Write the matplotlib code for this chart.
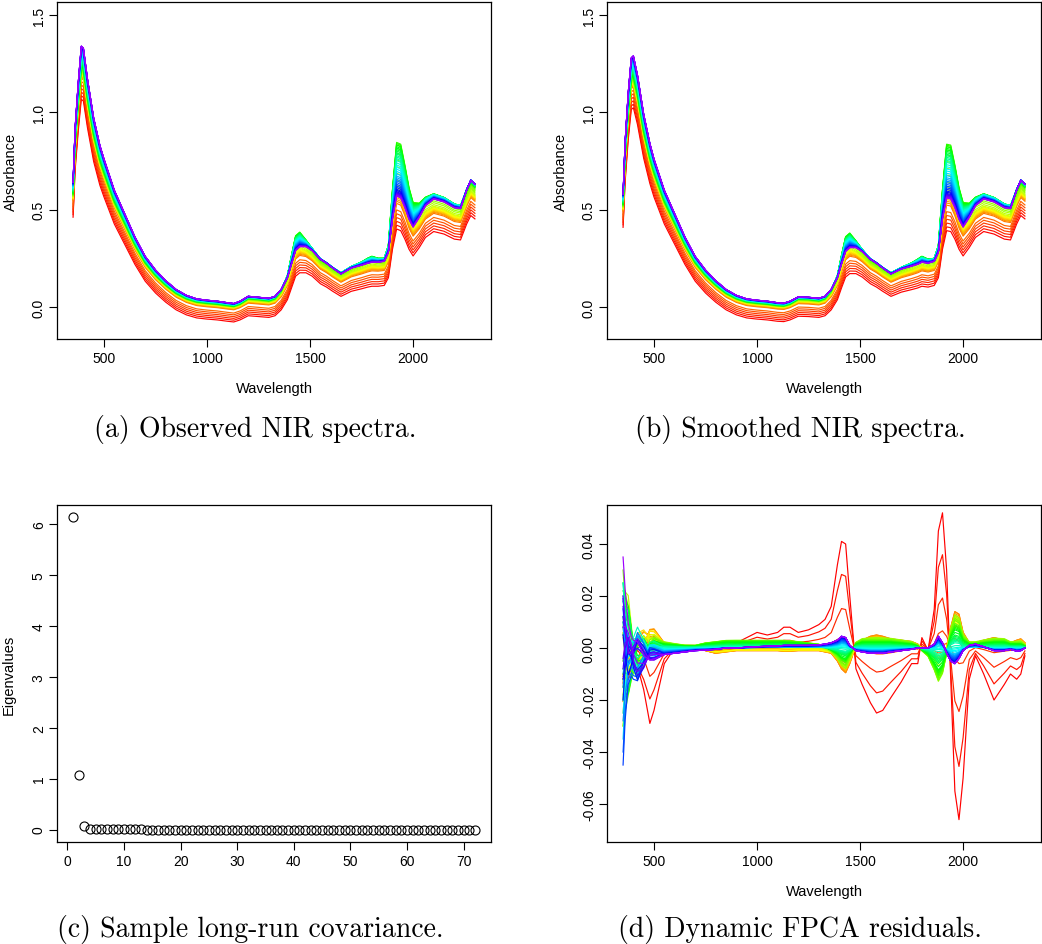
import matplotlib
matplotlib.use("Agg")
import matplotlib.pyplot as plt
import numpy as np
from matplotlib.colors import hsv_to_rgb

plt.rcParams["font.family"] = ["Liberation Sans", "DejaVu Sans"]
plt.rcParams["axes.unicode_minus"] = False

wave = [350, 360, 375, 390, 400, 420, 450, 480, 500, 550,
        600, 650, 700, 750, 800, 850, 900, 950, 1000, 1050,
        1100, 1130, 1160, 1200, 1250, 1300, 1330, 1360, 1390, 1410,
        1430, 1450, 1480, 1510, 1550, 1580, 1610, 1650, 1700, 1750,
        1780, 1800, 1830, 1860, 1880, 1900, 1920, 1940, 1960, 1980,
        2000, 2030, 2060, 2100, 2150, 2200, 2230, 2260, 2280, 2300]

# top (violet) observed spectrum
base_observed = [0.64, 0.92, 1.15, 1.34, 1.33, 1.17, 0.97, 0.83, 0.76, 0.60,
                 0.48, 0.36, 0.26, 0.19, 0.135, 0.09, 0.06, 0.042, 0.035, 0.03,
                 0.022, 0.018, 0.03, 0.055, 0.05, 0.045, 0.055, 0.09, 0.15, 0.22,
                 0.29, 0.31, 0.31, 0.29, 0.245, 0.225, 0.20, 0.17, 0.20, 0.215,
                 0.225, 0.23, 0.23, 0.235, 0.28, 0.45, 0.57, 0.56, 0.51, 0.45,
                 0.41, 0.46, 0.52, 0.555, 0.54, 0.51, 0.505, 0.60, 0.65, 0.63]

# top (violet) smoothed spectrum
base_smoothed = [0.58, 0.85, 1.10, 1.28, 1.29, 1.19, 0.99, 0.84, 0.76, 0.60,
                 0.48, 0.36, 0.26, 0.19, 0.135, 0.09, 0.06, 0.042, 0.035, 0.03,
                 0.022, 0.02, 0.03, 0.052, 0.05, 0.045, 0.055, 0.09, 0.15, 0.22,
                 0.285, 0.305, 0.305, 0.285, 0.245, 0.225, 0.20, 0.17, 0.195, 0.21,
                 0.22, 0.23, 0.225, 0.235, 0.28, 0.45, 0.56, 0.555, 0.51, 0.45,
                 0.41, 0.46, 0.52, 0.555, 0.54, 0.51, 0.505, 0.60, 0.65, 0.63]

# extra absorbance of the water bands (greenest spectra)
water_band = [0.0, 0.0, 0.0, 0.0, 0.0, 0.0, 0.0, 0.0, 0.0, 0.0,
              0.0, 0.0, 0.0, 0.0, 0.0, 0.0, 0.0, 0.0, 0.0, 0.0,
              0.0, 0.0, 0.0, 0.005, 0.005, 0.003, 0.005, 0.012, 0.035, 0.075,
              0.11, 0.11, 0.07, 0.045, 0.03, 0.028, 0.028, 0.03, 0.035, 0.045,
              0.055, 0.06, 0.05, 0.045, 0.07, 0.20, 0.33, 0.33, 0.27, 0.21,
              0.17, 0.12, 0.095, 0.08, 0.075, 0.07, 0.065, 0.055, 0.05, 0.045]

# per-spectrum scale, shift and water content (red ... violet)
spec_scale = [0.865, 0.872, 0.879, 0.886, 0.893, 0.900, 0.900, 0.902, 0.903, 0.904,
              0.905, 0.906, 0.907, 0.908, 0.909, 0.910, 0.912, 0.914, 0.916, 0.918,
              0.920, 0.922, 0.924, 0.926, 0.928, 0.930, 0.933, 0.936, 0.939, 0.942,
              0.945, 0.948, 0.951, 0.954, 0.957, 0.960, 0.963, 0.966, 0.969, 0.972,
              0.975, 0.977, 0.979, 0.981, 0.983, 0.985, 0.987, 0.989, 0.991, 0.993,
              0.995, 0.996, 0.997, 0.998, 0.999, 1.0, 1.0, 1.0, 1.0, 1.0]
spec_shift = [-0.092, -0.083, -0.074, -0.065, -0.056, -0.047, -0.030, -0.027, -0.025, -0.023,
              -0.022, -0.021, -0.020, -0.019, -0.018, -0.017, -0.016, -0.015, -0.015, -0.014,
              -0.014, -0.013, -0.013, -0.012, -0.012, -0.011, -0.011, -0.010, -0.010, -0.009,
              -0.009, -0.008, -0.008, -0.007, -0.007, -0.006, -0.006, -0.005, -0.005, -0.004,
              -0.004, -0.004, -0.003, -0.003, -0.003, -0.002, -0.002, -0.002, -0.002, -0.001,
              -0.001, -0.001, -0.001, 0.0, 0.0, 0.0, 0.0, 0.0, 0.0, 0.0]
spec_water = [0.0, 0.02, 0.04, 0.06, 0.08, 0.10, 0.15, 0.17, 0.19, 0.21,
              0.23, 0.25, 0.28, 0.31, 0.34, 0.38, 0.45, 0.55, 0.65, 0.75,
              0.85, 0.92, 0.97, 1.0, 0.98, 0.95, 0.92, 0.89, 0.86, 0.83,
              0.80, 0.77, 0.74, 0.71, 0.68, 0.64, 0.60, 0.56, 0.52, 0.48,
              0.44, 0.40, 0.36, 0.33, 0.30, 0.27, 0.24, 0.21, 0.18, 0.15,
              0.12, 0.10, 0.08, 0.06, 0.05, 0.04, 0.03, 0.02, 0.01, 0.0]

# eigenvalues of the sample long-run covariance
eigenvalues = [6.13, 1.08, 0.065, 0.012, 0.006, 0.004, 0.003, 0.002, 0.002, 0.001,
               0.001, 0.001, 0.001, 0.0, 0.0, 0.0, 0.0, 0.0, 0.0, 0.0,
               0.0, 0.0, 0.0, 0.0, 0.0, 0.0, 0.0, 0.0, 0.0, 0.0,
               0.0, 0.0, 0.0, 0.0, 0.0, 0.0, 0.0, 0.0, 0.0, 0.0,
               0.0, 0.0, 0.0, 0.0, 0.0, 0.0, 0.0, 0.0, 0.0, 0.0,
               0.0, 0.0, 0.0, 0.0, 0.0, 0.0, 0.0, 0.0, 0.0, 0.0,
               0.0, 0.0, 0.0, 0.0, 0.0, 0.0, 0.0, 0.0, 0.0, 0.0,
               0.0, 0.0]

# residual patterns (dynamic FPCA)
resid_red = [-0.010, -0.012, -0.010, -0.008, -0.007, -0.007, -0.016, -0.029, -0.024, -0.006,
             0.0, 0.001, 0.001, -0.001, -0.002, 0.0, 0.002, 0.004, 0.006, 0.005,
             0.006, 0.008, 0.008, 0.006, 0.007, 0.009, 0.011, 0.016, 0.032, 0.041,
             0.040, 0.020, -0.008, -0.014, -0.021, -0.025, -0.024, -0.019, -0.013, -0.006,
             -0.006, 0.004, -0.001, 0.015, 0.045, 0.052, 0.030, -0.012, -0.055, -0.066,
             -0.050, -0.012, -0.003, -0.010, -0.020, -0.014, -0.010, -0.012, -0.010, -0.003]
resid_warm = [0.0, 0.0, -0.002, -0.004, -0.004, -0.001, 0.004, 0.006, 0.006, 0.002,
              0.001, 0.0005, 0.0, -0.001, -0.002, -0.0015, -0.001, -0.001, -0.001, -0.001,
              -0.001, -0.0012, -0.0012, -0.001, -0.001, -0.001, -0.0015, -0.002, -0.005, -0.008,
              -0.0095, -0.006, 0.001, 0.003, 0.0045, 0.005, 0.0045, 0.0035, 0.003, 0.0025,
              0.0015, 0.0, -0.001, -0.002, -0.004, -0.004, 0.0, 0.008, 0.014, 0.013,
              0.006, 0.002, 0.002, 0.003, 0.004, 0.003, 0.002, 0.003, 0.0035, 0.002]
resid_green = [0.0, 0.0, 0.0, -0.002, -0.004, -0.005, -0.002, 0.001, 0.002, 0.002,
               0.0015, 0.001, 0.001, 0.002, 0.0025, 0.003, 0.003, 0.003, 0.003, 0.003,
               0.003, 0.003, 0.0028, 0.0025, 0.002, 0.0015, 0.0005, -0.001, -0.003, -0.005,
               -0.006, -0.003, 0.002, 0.003, 0.003, 0.003, 0.003, 0.003, 0.0025, 0.002,
               0.001, -0.001, -0.003, -0.008, -0.012, -0.009, -0.002, 0.006, 0.010, 0.009,
               0.004, 0.002, 0.002, 0.0025, 0.003, 0.003, 0.002, 0.002, 0.002, 0.001]
resid_cool = [0.0, 0.0, -0.002, -0.003, -0.004, -0.004, -0.004, -0.003, -0.003, -0.0025,
              -0.002, -0.0015, -0.001, -0.0008, -0.0005, 0.0, 0.0, 0.0003, 0.0005, 0.0007,
              0.0008, 0.001, 0.001, 0.001, 0.001, 0.0012, 0.0015, 0.002, 0.003, 0.0045,
              0.004, 0.001, -0.001, -0.0015, -0.002, -0.002, -0.002, -0.0015, -0.001, -0.0005,
              0.0, 0.0, 0.0, 0.0015, 0.0045, 0.002, -0.002, -0.005, -0.006, -0.004,
              -0.001, 0.001, 0.0015, 0.0005, -0.001, -0.001, -0.0005, -0.0012, -0.001, 0.0]
resid_edge = [1.0, 0.75, 0.5, 0.3, 0.2, 0.08, -0.04, -0.03, -0.01, 0.0,
              0.0, 0.0, 0.0, 0.0, 0.0, 0.0, 0.0, 0.0, 0.0, 0.0,
              0.0, 0.0, 0.0, 0.0, 0.0, 0.0, 0.0, 0.0, 0.0, 0.0,
              0.0, 0.0, 0.0, 0.0, 0.0, 0.0, 0.0, 0.0, 0.0, 0.0,
              0.0, 0.0, 0.0, 0.0, 0.0, 0.0, 0.0, 0.0, 0.0, 0.0,
              0.0, 0.0, 0.0, 0.0, 0.0, 0.0, 0.0, 0.0, 0.0, 0.0]
resid_wiggle = [0.0, 0.6, 1.0, 0.5, 0.0, -0.6, -0.4, 0.1, 0.15, 0.0,
                0.0, 0.0, 0.0, 0.0, 0.0, 0.0, 0.0, 0.0, 0.0, 0.0,
                0.0, 0.0, 0.0, 0.0, 0.0, 0.0, 0.0, 0.0, 0.0, 0.0,
                0.0, 0.0, 0.0, 0.0, 0.0, 0.0, 0.0, 0.0, 0.0, 0.0,
                0.0, 0.0, 0.0, 0.0, 0.0, 0.0, 0.0, 0.0, 0.0, 0.0,
                0.0, 0.0, 0.0, 0.0, 0.0, 0.0, 0.0, 0.0, 0.0, 0.0]

# per-spectrum weights of each residual pattern
gain_red = [1.0, 0.69, 0.37, 0.15, 0.06, 0.02, 0.0, 0.0, 0.0, 0.0,
            0.0, 0.0, 0.0, 0.0, 0.0, 0.0, 0.0, 0.0, 0.0, 0.0,
            0.0, 0.0, 0.0, 0.0, 0.0, 0.0, 0.0, 0.0, 0.0, 0.0,
            0.0, 0.0, 0.0, 0.0, 0.0, 0.0, 0.0, 0.0, 0.0, 0.0,
            0.0, 0.0, 0.0, 0.0, 0.0, 0.0, 0.0, 0.0, 0.0, 0.0,
            0.0, 0.0, 0.0, 0.0, 0.0, 0.0, 0.0, 0.0, 0.0, 0.0]
gain_warm = [0.0, 0.0, 0.0, 0.3, 0.5, 0.7, 1.0, 1.0, 0.95, 0.9,
             0.85, 0.8, 0.75, 0.7, 0.6, 0.5, 0.4, 0.3, 0.2, 0.1,
             0.05, 0.0, 0.0, 0.0, 0.0, 0.0, 0.0, 0.0, 0.0, 0.0,
             0.0, 0.0, 0.0, 0.0, 0.0, 0.0, 0.0, 0.0, 0.0, 0.0,
             0.0, 0.0, 0.0, 0.0, 0.0, 0.0, 0.0, 0.0, 0.0, 0.0,
             0.0, 0.0, 0.0, 0.0, 0.0, 0.0, 0.0, 0.0, 0.0, 0.0]
gain_green = [0.0, 0.0, 0.0, 0.0, 0.0, 0.0, 0.0, 0.0, 0.0, 0.0,
              0.0, 0.0, 0.0, 0.0, 0.2, 0.4, 0.6, 0.8, 1.0, 1.0,
              1.0, 0.95, 0.9, 0.85, 0.8, 0.75, 0.7, 0.6, 0.5, 0.45,
              0.4, 0.35, 0.3, 0.25, 0.2, 0.15, 0.1, 0.08, 0.05, 0.03,
              0.0, 0.0, 0.0, 0.0, 0.0, 0.0, 0.0, 0.0, 0.0, 0.0,
              0.0, 0.0, 0.0, 0.0, 0.0, 0.0, 0.0, 0.0, 0.0, 0.0]
gain_cool = [0.0, 0.0, 0.0, 0.0, 0.0, 0.0, 0.0, 0.0, 0.0, 0.0,
             0.0, 0.0, 0.0, 0.0, 0.0, 0.0, 0.0, 0.0, 0.0, 0.0,
             0.0, 0.0, 0.0, 0.0, 0.0, 0.0, 0.0, 0.0, 0.0, 0.0,
             0.0, 0.0, 0.0, 0.0, 0.0, 0.1, 0.15, 0.2, 0.25, 0.3,
             0.35, 0.4, 0.45, 0.5, 0.55, 0.6, 0.65, 0.7, 0.75, 0.8,
             0.85, 0.9, 0.95, 1.0, 1.0, 1.0, 1.0, 1.0, 1.0, 1.0]
gain_edge = [0.0, -0.004, -0.008, -0.012, -0.02, -0.01, -0.005, 0.008, -0.015, 0.012,
             -0.025, 0.006, -0.03, 0.01, -0.018, 0.004, 0.02, -0.01, 0.025, -0.02,
             0.03, 0.008, -0.03, 0.015, -0.012, 0.022, 0.005, -0.008, 0.018, -0.015,
             0.012, 0.025, -0.02, 0.01, -0.005, 0.025, -0.01, 0.018, -0.025, 0.012,
             -0.035, 0.02, -0.015, 0.008, -0.028, 0.015, -0.04, 0.01, -0.045, 0.019,
             -0.02, 0.005, -0.012, 0.016, -0.008, 0.012, -0.004, 0.02, 0.008, 0.035]
gain_wiggle = [0.0, 0.003, -0.004, 0.006, -0.005, 0.004, 0.008, -0.006, 0.01, -0.008,
               0.006, -0.01, 0.012, -0.004, 0.007, -0.009, 0.011, -0.012, 0.004, 0.009,
               -0.007, 0.012, -0.003, 0.008, -0.011, 0.005, 0.01, -0.006, 0.003, -0.01,
               0.009, -0.005, 0.012, -0.008, 0.004, -0.012, 0.01, -0.004, 0.007, -0.009,
               0.012, -0.006, 0.011, -0.01, 0.005, -0.012, 0.009, -0.003, 0.01, -0.007,
               0.012, -0.011, 0.006, -0.008, 0.01, -0.005, 0.008, -0.01, 0.004, -0.006]

captions = ["(a) Observed NIR spectra.", "(b) Smoothed NIR spectra.",
            "(c) Sample long-run covariance.", "(d) Dynamic FPCA residuals."]

FIG_W, FIG_H = 1042, 945


def rainbow(n, end=0.77):
    return [hsv_to_rgb((end * k / (n - 1), 1.0, 1.0)) for k in range(n)]


def px_axes(fig, left, top, right, bottom):
    return fig.add_axes([left / FIG_W, 1 - bottom / FIG_H,
                         (right - left) / FIG_W, (bottom - top) / FIG_H])


def style_axes(ax):
    for spine in ax.spines.values():
        spine.set_linewidth(0.9)
    ax.tick_params(direction="out", length=6, width=0.8, labelsize=10, pad=3)
    ax.tick_params(axis="y", labelrotation=90, pad=2)
    for lbl in ax.get_yticklabels():
        lbl.set_va("center")


def spectra_panel(ax, base):
    w = np.array(wave)
    base = np.array(base)
    water = np.array(water_band)
    for k, color in enumerate(colors):
        y = spec_scale[k] * base + spec_shift[k] + spec_water[k] * water
        ax.plot(w, y, color=color, lw=0.85)
    ax.set_xlim(272, 2378)
    ax.set_ylim(-0.164, 1.567)
    ax.set_xticks([500, 1000, 1500, 2000])
    ax.set_yticks([0.0, 0.5, 1.0, 1.5])
    style_axes(ax)
    ax.set_xlabel("Wavelength", fontsize=10.5)
    ax.set_ylabel("Absorbance", fontsize=10.5)
    ax.xaxis.set_label_coords(0.5, -0.145)
    ax.xaxis.label.set_va("center")
    ax.yaxis.set_label_coords(-0.105, 0.5)
    ax.yaxis.label.set_va("center")


colors = rainbow(len(spec_scale))

fig = plt.figure(figsize=(FIG_W / 100, FIG_H / 100), dpi=100)

ax_a = px_axes(fig, 57, 3, 491, 340)
spectra_panel(ax_a, base_observed)

ax_b = px_axes(fig, 607, 3, 1041, 340)
spectra_panel(ax_b, base_smoothed)

ax_c = px_axes(fig, 57, 506, 491, 843)
idx = np.arange(1, len(eigenvalues) + 1)
ax_c.plot(idx, eigenvalues, linestyle="none", marker="o", markersize=6.5,
          markerfacecolor="none", markeredgecolor="black", markeredgewidth=0.8)
ax_c.set_xlim(-1.84, 74.84)
ax_c.set_ylim(-0.245, 6.375)
ax_c.set_xticks(range(0, 71, 10))
ax_c.set_yticks(range(0, 7))
style_axes(ax_c)
ax_c.set_ylabel("Eigenvalues", fontsize=10.5)
ax_c.yaxis.set_label_coords(-0.112, 0.5)
ax_c.yaxis.label.set_va("center")

ax_d = px_axes(fig, 607, 506, 1041, 843)
w = np.array(wave)
for k, color in enumerate(colors):
    r = (gain_red[k] * np.array(resid_red) + gain_warm[k] * np.array(resid_warm)
         + gain_green[k] * np.array(resid_green) + gain_cool[k] * np.array(resid_cool)
         + gain_edge[k] * np.array(resid_edge) + gain_wiggle[k] * np.array(resid_wiggle))
    ax_d.plot(w, r, color=color, lw=0.85)
ax_d.set_xlim(272, 2378)
ax_d.set_ylim(-0.0746, 0.055)
ax_d.set_xticks([500, 1000, 1500, 2000])
ax_d.set_yticks([-0.06, -0.04, -0.02, 0.0, 0.02, 0.04])
ax_d.set_yticklabels(["-0.06", "-0.04", "-0.02", "0.00", "0.02", "0.04"])
style_axes(ax_d)
ax_d.set_xlabel("Wavelength", fontsize=10.5)
ax_d.xaxis.set_label_coords(0.5, -0.145)
ax_d.xaxis.label.set_va("center")

caption_pos = [(255, 430), (800, 430), (250, 930), (800, 930)]
for text, (cx, cy) in zip(captions, caption_pos):
    fig.text(cx / FIG_W, 1 - cy / FIG_H, text, ha="center", va="center",
             fontfamily="cmr10", fontsize=20)

fig.savefig("out.png", dpi=100)
